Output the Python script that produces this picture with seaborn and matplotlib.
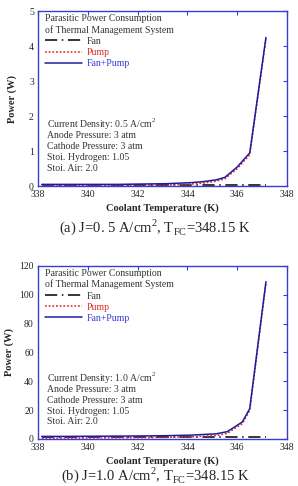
import numpy as np
import pandas as pd
import seaborn as sns
import matplotlib.pyplot as plt

# Panel (a): J = 0.5 A/cm2
temp_a = [338.15, 339.15, 340.15, 341.15, 342.15, 343.15, 344.15, 344.65, 345.15, 345.5, 346.0, 346.5, 347.15]
fan_a = [0.04, 0.04, 0.04, 0.04, 0.04, 0.04, 0.04, 0.04, 0.04, 0.04, 0.04, 0.04, 0.04]
pump_a = [0.01, 0.01, 0.01, 0.01, 0.02, 0.03, 0.06, 0.09, 0.14, 0.21, 0.50, 0.90, 4.20]
total_a = [0.05, 0.05, 0.05, 0.05, 0.06, 0.07, 0.10, 0.13, 0.18, 0.25, 0.55, 0.95, 4.25]

# Panel (b): J = 1.0 A/cm2
temp_b = [338.15, 339.15, 340.15, 341.15, 342.15, 343.15, 344.15, 345.15, 345.6, 346.2, 346.5, 347.15]
fan_b = [1.2, 1.2, 1.2, 1.2, 1.2, 1.2, 1.2, 1.2, 1.2, 1.2, 1.2, 1.2]
pump_b = [0.5, 0.5, 0.6, 0.7, 0.8, 1.0, 1.4, 2.3, 3.8, 10.5, 19.8, 107.8]
total_b = [1.7, 1.7, 1.8, 1.9, 2.0, 2.2, 2.6, 3.5, 5.0, 11.7, 21.0, 109.0]

series_names = ['Fan', 'Pump', 'Fan+Pump']
conditions_a = ['Current Density: 0.5 A/cm$^2$', 'Anode Pressure: 3 atm', 'Cathode Pressure: 3 atm',
                'Stoi. Hydrogen: 1.05', 'Stoi. Air: 2.0']
conditions_b = ['Current Density: 1.0 A/cm$^2$', 'Anode Pressure: 3 atm', 'Cathode Pressure: 3 atm',
                'Stoi. Hydrogen: 1.05', 'Stoi. Air: 2.0']

sns.set_style('white')
plt.rcParams['font.family'] = ['Liberation Serif', 'DejaVu Serif']
plt.rcParams['mathtext.fontset'] = 'custom'
plt.rcParams['mathtext.rm'] = 'Liberation Serif'

colors = {'Fan': 'black', 'Pump': '#e02828', 'Fan+Pump': '#1c1ca0'}
text_colors = {'Fan': '#333333', 'Pump': '#e02828', 'Fan+Pump': '#3a3ad8'}
dashes = {'Fan': (8, 3, 1, 3), 'Pump': (1.2, 1.2), 'Fan+Pump': ''}


def make_frame(temp, fan, pump, total):
    parts = []
    for name, vals in zip(series_names, [fan, pump, total]):
        parts.append(pd.DataFrame({'T': temp, 'P': vals, 'series': name}))
    return pd.concat(parts, ignore_index=True)


fig = plt.figure(figsize=(2.98, 4.86), dpi=100)
ax_a = fig.add_axes([0.1275, 0.617, 0.836, 0.360])
ax_b = fig.add_axes([0.1275, 0.097, 0.836, 0.356])

panels = [
    (ax_a, make_frame(temp_a, fan_a, pump_a, total_a), 5, 1, conditions_a, -0.084),
    (ax_b, make_frame(temp_b, fan_b, pump_b, total_b), 120, 20, conditions_b, -0.096),
]

for ax, df, ymax, ystep, cond, ylab_x in panels:
    sns.lineplot(data=df, x='T', y='P', hue='series', style='series',
                 palette=colors, dashes=dashes, hue_order=series_names,
                 style_order=series_names, linewidth=1.1, ax=ax)
    ax.set_xlim(338, 348)
    ax.set_ylim(0, ymax)
    ax.set_xticks(np.arange(338, 349, 2))
    ax.set_yticks(np.arange(0, ymax + 1, ystep))
    ax.tick_params(direction='in', length=3, width=0.8, labelsize=7,
                   top=True, right=True, color='#3a3ad8')
    ax.tick_params(axis='x', pad=3)
    ax.tick_params(axis='y', pad=3)
    for sp in ax.spines.values():
        sp.set_color('#3a3ad8')
        sp.set_linewidth(1.0)
    ax.set_xlabel('Coolant Temperature (K)', fontsize=7.5, fontweight='bold', labelpad=3)
    ax.set_ylabel('Power (W)', fontsize=7.5, fontweight='bold')
    ax.yaxis.set_label_coords(ylab_x, 0.5)

    leg = ax.legend(title='Parasitic Power Consumption\nof Thermal Management System',
                    loc='upper left', bbox_to_anchor=(0.0, 1.02), frameon=False,
                    fontsize=7, title_fontsize=7,
                    handlelength=3.8, handletextpad=0.5, labelspacing=0.22,
                    borderaxespad=0.3, alignment='left')
    for txt in leg.get_texts():
        txt.set_color(text_colors[txt.get_text()])
    leg.get_title().set_color('#333333')

    for i, line in enumerate(cond):
        ax.text(0.035, 0.35 - i * 0.063, line, transform=ax.transAxes, fontsize=7,
                color='#333333', va='center', ha='left')

fig.text(0.52, 1 - 227 / 486, '(a) J=0. 5 A/cm$^2$, T$_\\mathrm{FC}$=348.15 K',
         ha='center', va='center', fontsize=10.5)
fig.text(0.52, 1 - 475 / 486, '(b) J=1.0 A/cm$^2$, T$_\\mathrm{FC}$=348.15 K',
         ha='center', va='center', fontsize=10.5)

fig.savefig('out.png', dpi=100)
